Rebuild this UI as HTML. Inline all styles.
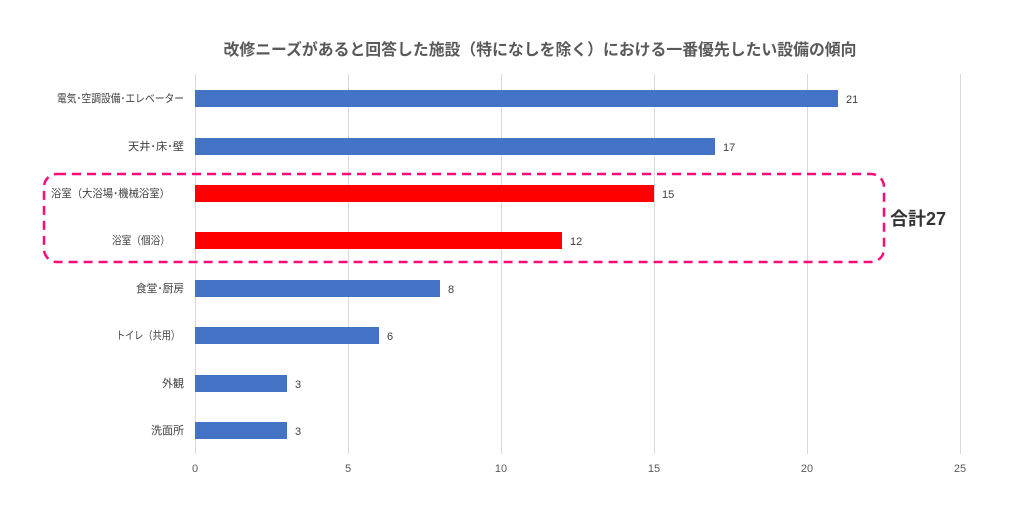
<!DOCTYPE html>
<html><head><meta charset="utf-8"><style>
html,body{margin:0;padding:0;background:#fff;width:1024px;height:511px;overflow:hidden}
svg text{font-family:"Liberation Sans","Noto Sans CJK JP",sans-serif}
</style></head><body>
<svg width="1024" height="511" viewBox="0 0 1024 511" xmlns="http://www.w3.org/2000/svg">
<text x="540" y="55" text-anchor="middle" font-size="16" font-weight="bold" fill="#595959" textLength="633" lengthAdjust="spacingAndGlyphs">改修ニーズがあると回答した施設（特になしを除く）における一番優先したい設備の傾向</text>
<g stroke="#d9d9d9" stroke-width="1">
<line x1="195.5" y1="74" x2="195.5" y2="454"/>
<line x1="348.5" y1="74" x2="348.5" y2="454"/>
<line x1="501.5" y1="74" x2="501.5" y2="454"/>
<line x1="654.5" y1="74" x2="654.5" y2="454"/>
<line x1="807.5" y1="74" x2="807.5" y2="454"/>
<line x1="960.5" y1="74" x2="960.5" y2="454"/>
</g>
<g font-size="11" fill="#404040" lengthAdjust="spacingAndGlyphs">
<text x="57" y="102" textLength="127" lengthAdjust="spacingAndGlyphs">電気･空調設備･エレベーター</text>
<text x="128" y="150" textLength="56" lengthAdjust="spacingAndGlyphs">天井･床･壁</text>
<text x="51" y="197" textLength="119" lengthAdjust="spacingAndGlyphs">浴室（大浴場･機械浴室）</text>
<text x="112" y="244" textLength="58" lengthAdjust="spacingAndGlyphs">浴室（個浴）</text>
<text x="136" y="292" textLength="48" lengthAdjust="spacingAndGlyphs">食堂･厨房</text>
<text x="116" y="339" textLength="64" lengthAdjust="spacingAndGlyphs">トイレ（共用）</text>
<text x="162" y="387" textLength="22" lengthAdjust="spacingAndGlyphs">外観</text>
<text x="151" y="434" textLength="33" lengthAdjust="spacingAndGlyphs">洗面所</text>
</g>
<rect x="195" y="90" width="643" height="17" fill="#4472c4"/>
<rect x="195" y="138" width="520" height="17" fill="#4472c4"/>
<rect x="195" y="185" width="459" height="17" fill="#ff0000"/>
<rect x="195" y="232" width="367" height="17" fill="#ff0000"/>
<rect x="195" y="280" width="245" height="17" fill="#4472c4"/>
<rect x="195" y="327" width="184" height="17" fill="#4472c4"/>
<rect x="195" y="375" width="92" height="17" fill="#4472c4"/>
<rect x="195" y="422" width="92" height="17" fill="#4472c4"/>
<g font-size="11" fill="#404040">
<text x="846" y="103">21</text>
<text x="723" y="151">17</text>
<text x="662" y="198">15</text>
<text x="570" y="245">12</text>
<text x="448" y="293">8</text>
<text x="387" y="340">6</text>
<text x="295" y="388">3</text>
<text x="295" y="435">3</text>
</g>
<g font-size="11" fill="#595959" text-anchor="middle">
<text x="195" y="472">0</text>
<text x="348" y="472">5</text>
<text x="501" y="472">10</text>
<text x="654" y="472">15</text>
<text x="807" y="472">20</text>
<text x="960" y="472">25</text>
</g>
<rect x="44" y="174" width="840" height="88" rx="13" fill="none" stroke="#ff0a78" stroke-width="2.5" stroke-dasharray="9,6"/>
<text x="890" y="225" font-size="18" font-weight="bold" fill="#333">合計27</text>
</svg>
</body></html>
